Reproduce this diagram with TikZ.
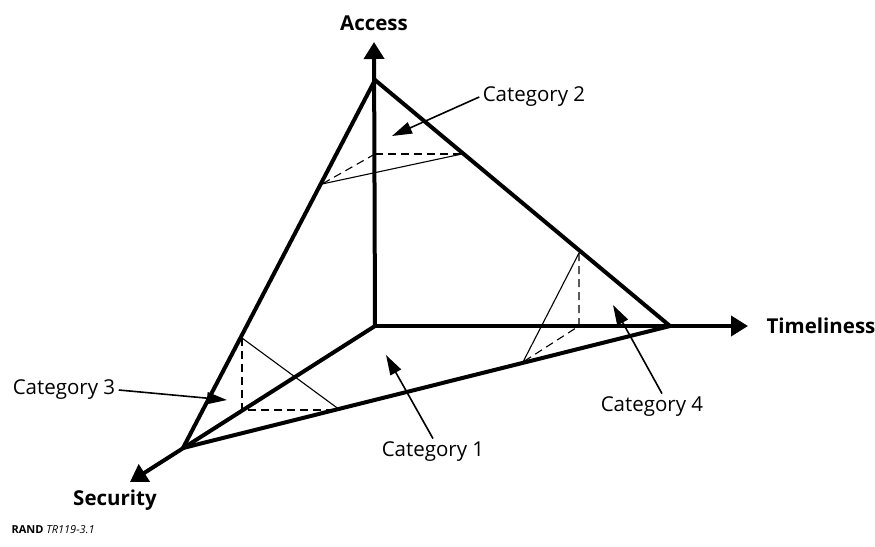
\documentclass[tikz,border=0pt]{standalone}
\usepackage{fontspec}
\setmainfont{Open Sans}
\usetikzlibrary{arrows.meta}

\begin{document}
\begin{tikzpicture}[x=1pt,y=-1pt,
    every node/.style={font=\fontsize{20.5}{24}\selectfont},
    axis/.style={line width=4pt,-{Triangle[length=17pt,width=20pt]}},
    edge/.style={line width=4pt,line cap=round},
    catarrow/.style={line width=1.6pt,-{Triangle[length=20pt,width=12pt]}},
    slice/.style={line width=1.1pt},
    hidden/.style={line width=1.1pt,dash pattern=on 8pt off 5pt}
]
\useasboundingbox (0,0) rectangle (875,546);

\coordinate (O) at (375,326);
\coordinate (A) at (375,80);
\coordinate (T) at (670,326);
\coordinate (S) at (183,448);

\node[font=\fontsize{20.5}{24}\selectfont\bfseries] (access) at (374,23) {Access};
\node[font=\fontsize{20.5}{24}\selectfont\bfseries] (time) at (821,326) {Timeliness};
\node[font=\fontsize{20.5}{24}\selectfont\bfseries] (sec) at (115,500) {Security};

\draw[axis] (O) -- (374,42);
\draw[axis] (O) -- (748,326);
\draw[axis] (O) -- (130,482);

\draw[edge] (A) -- (S);
\draw[edge] (A) -- (T);
\draw[edge] (S) -- (T);

% slices
\draw[hidden] (375,154) -- (462,154);
\draw[hidden] (375,154) -- (322,184);
\draw[slice] (322,184) -- (462,154);

\draw[hidden] (242,338) -- (242,410) -- (340,410);
\draw[slice] (242,338) -- (340,410);

\draw[hidden] (579,253) -- (579,326) -- (523,362);
\draw[slice] (579,253) -- (523,362);

\node (cat1) at (433,452) {Category 1};
\node (cat2) at (534,97) {Category 2};
\node (cat3) at (64,390) {Category 3};
\node (cat4) at (652,407) {Category 4};

\coordinate (tip1) at (386,355);
\coordinate (tip2) at (392,136);
\coordinate (tip3) at (227,400);
\coordinate (tip4) at (613,305);

\draw[catarrow] (cat1.north) -- (tip1);
\draw[catarrow] (cat2.west) -- (tip2);
\draw[catarrow] (cat3.east) -- (tip3);
\draw[catarrow] ([xshift=10pt]cat4.north) -- (tip4);

\node[anchor=west,font=\fontsize{11}{13}\selectfont] (src) at (8,530) {\textbf{RAND} \textit{TR119-3.1}};

\end{tikzpicture}
\end{document}
